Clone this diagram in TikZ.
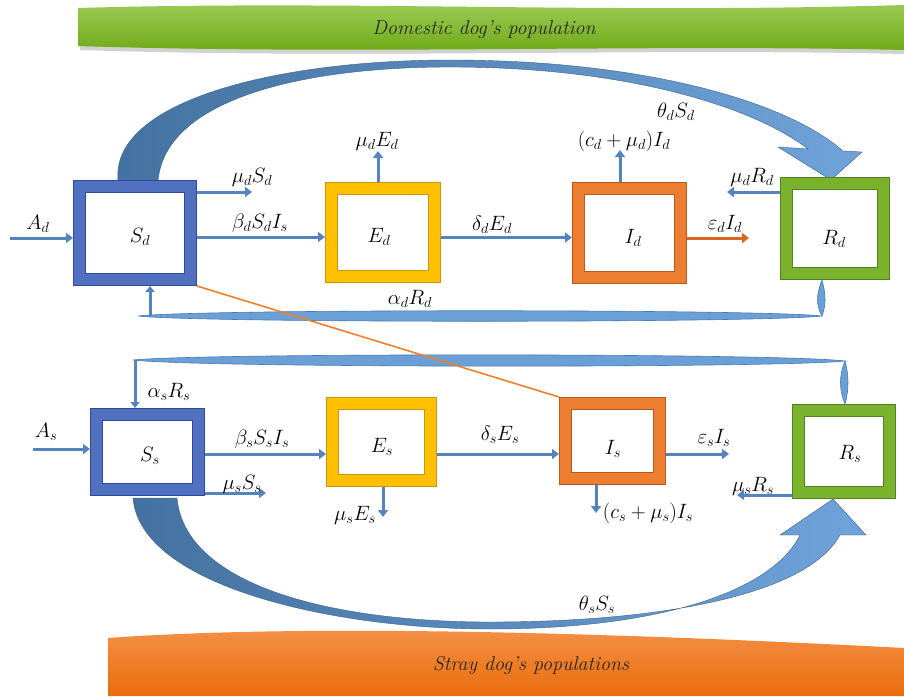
\documentclass[tikz,border=0pt]{standalone}
\usetikzlibrary{arrows.meta}
\definecolor{flowc}{RGB}{84,131,192}
\definecolor{Sband}{RGB}{82,112,192}
\definecolor{Sdark}{RGB}{47,75,150}
\definecolor{Eband}{RGB}{255,192,0}
\definecolor{Edark}{RGB}{196,150,20}
\definecolor{Iband}{RGB}{237,125,49}
\definecolor{Idark}{RGB}{180,90,30}
\definecolor{Rband}{RGB}{122,178,46}
\definecolor{Rdark}{RGB}{84,128,36}
\definecolor{bigL}{RGB}{68,114,160}
\definecolor{bigR}{RGB}{112,163,218}
\definecolor{lensc}{RGB}{106,160,214}
\definecolor{lensdk}{RGB}{70,120,180}
\definecolor{orl}{RGB}{240,127,42}
\definecolor{epsc}{RGB}{214,104,30}
\definecolor{gTop}{RGB}{158,204,90}
\definecolor{gBot}{RGB}{108,168,18}
\definecolor{oTop}{RGB}{244,146,74}
\definecolor{oBot}{RGB}{234,108,12}
\begin{document}
\begin{tikzpicture}[x=1pt,y=-1pt,
  lab/.style={inner sep=0pt, font=\fontsize{20.74}{25}\selectfont},
  bantext/.style={inner sep=0pt, font=\fontsize{20}{24}\selectfont\itshape, text=black!85},
  flow/.style={draw=flowc, line width=3pt, -{Triangle[length=7pt,width=10pt]}},
  box/.style={draw=#1dark, double=#1band, line width=1pt, double distance=11pt,
    fill=white, outer sep=6.5pt, inner sep=0pt},
  bigarrow/.style={left color=bigL, right color=bigR, draw=bigL!85!black, line width=0.4pt},
  lens/.style={fill=lensc, draw=lensdk, line width=0.6pt}]
\useasboundingbox (0,0) rectangle (904,696);

% banners
\path[fill=black!40, opacity=0.45] (80,12) .. controls (350,4) and (600,18) .. (904,9) -- (904,54) .. controls (650,48) and (350,59) .. (80,50) -- cycle;
\path[top color=gTop, bottom color=gBot] (78,8) .. controls (350,0) and (600,14) .. (904,5) -- (904,50) .. controls (650,44) and (350,55) .. (78,46) -- cycle;
\node[bantext] (gtitle) at (484,30) {Domestic dog’s population};

\path[top color=oTop, bottom color=oBot] (108,638) .. controls (300,624) and (600,632) .. (904,648) -- (904,696) -- (108,696) -- cycle;
\node[bantext] (otitle) at (531,665) {Stray dog’s populations};

% big curved arrows
\path[bigarrow] (118,181) .. controls (110,100) and (280,60) .. (450,60) .. controls (640,60) and (785,100) .. (843,151) -- (862,152) -- (831,180) -- (778,147) -- (808,149) .. controls (755,108) and (630,67) .. (450,67) .. controls (300,67) and (165,100) .. (158,181) -- cycle;
\path[bigarrow] (133,498) .. controls (140,585) and (330,629) .. (490,629) .. controls (650,629) and (770,595) .. (800,535) -- (780,535) -- (833,499) -- (866,535) -- (840,535) .. controls (805,598) and (650,622) .. (490,622) .. controls (330,622) and (185,585) .. (177,498) -- cycle;

% boxes
\node[box=S, minimum width=111, minimum height=93] (Sd) at (135,233) {};
\node[box=E, minimum width=103, minimum height=88] (Ed) at (383,232.5) {};
\node[box=I, minimum width=102, minimum height=89] (Id) at (629.5,233) {};
\node[box=R, minimum width=97, minimum height=90] (Rd) at (835,228.5) {};
\node[box=S, minimum width=102, minimum height=75] (Ss) at (147.5,452) {};
\node[box=E, minimum width=98, minimum height=77] (Es) at (381.5,442) {};
\node[box=I, minimum width=94, minimum height=75] (Is) at (612.5,441) {};
\node[box=R, minimum width=91, minimum height=82] (Rs) at (844,451.5) {};

\node[lab] (tSd) at (140,237) {$S_d$};
\node[lab] (tEd) at (379,237) {$E_d$};
\node[lab] (tId) at (633,238) {$I_d$};
\node[lab] (tRd) at (834,239) {$R_d$};
\node[lab] (tSs) at (150,456) {$S_s$};
\node[lab] (tEs) at (382,447) {$E_s$};
\node[lab] (tIs) at (613,449) {$I_s$};
\node[lab] (tRs) at (850,454) {$R_s$};

% recovery return connectors (alpha)
\coordinate (aLd) at (138,316);
\coordinate (aRd) at (822,316);
\coordinate (aUp) at (150,316);
\path[lens] (aLd) .. controls (200,309) and (760,309) .. (aRd) .. controls (760,323) and (200,323) .. (aLd) -- cycle;
\path[lens] (Rd.south -| aRd) .. controls (816,295) and (816,305) .. (aRd) .. controls (826,305) and (826,295) .. (Rd.south -| aRd) -- cycle;
\draw[flow, -{Triangle[length=6pt,width=9pt]}] (aUp) -- (aUp |- Sd.south);

\coordinate (aLs) at (133,360);
\coordinate (aRs) at (845,361);
\coordinate (aDown) at (135,360);
\path[lens] (aLs) .. controls (200,353) and (780,353) .. (aRs) .. controls (780,368) and (200,368) .. (aLs) -- cycle;
\path[lens] (aRs) .. controls (839,375) and (839,390) .. (Rs.north -| aRs) .. controls (849,390) and (849,375) .. (aRs) -- cycle;
\draw[flow, -{Triangle[length=6pt,width=9pt]}] (aDown) -- (aDown |- Ss.north);

% cross infection line
\draw[orl, line width=1.6pt] (Sd.south east) -- (Is.north west);

% top row flows
\coordinate (inAd) at (10,238);
\coordinate (muSd) at (252,192);
\coordinate (muEd) at (378,151);
\coordinate (cId) at (620,150);
\coordinate (epId) at (749,238);
\coordinate (muRd) at (727,192);
\draw[flow] (inAd) -- (inAd -| Sd.west);
\draw[flow] (muSd -| Sd.east) -- (muSd);
\draw[flow] ([yshift=-4pt]Sd.east) -- ([yshift=-4pt]Sd.east -| Ed.west);
\draw[flow] (Ed.north -| muEd) -- (muEd);
\draw[flow] ([yshift=-5pt]Ed.east) -- ([yshift=-5pt]Ed.east -| Id.west);
\draw[flow] (Id.north -| cId) -- (cId);
\draw[flow, draw=epsc] (epId -| Id.east) -- (epId);
\draw[flow] (muRd -| Rd.west) -- (muRd);

% bottom row flows
\coordinate (inAs) at (33,449);
\coordinate (muSs) at (266,493);
\coordinate (muEs) at (383,517);
\coordinate (cIs) at (596,513);
\coordinate (epIs) at (729,454);
\coordinate (muRs) at (737,495);
\draw[flow] (inAs) -- (inAs -| Ss.west);
\draw[flow] ([yshift=-2pt]Ss.east) -- ([yshift=-2pt]Ss.east -| Es.west);
\draw[flow] (muSs -| Ss.east) -- (muSs);
\draw[flow] (Es.south -| muEs) -- (muEs);
\draw[flow] ([yshift=-12pt]Es.east) -- ([yshift=-12pt]Es.east -| Is.west);
\draw[flow] (epIs -| Is.east) -- (epIs);
\draw[flow] (Is.south -| cIs) -- (cIs);
\draw[flow] (muRs -| Rs.west) -- (muRs);

% labels
\node[lab] (lAd) at (38,224) {$A_d$};
\node[lab] (lmuSd) at (252,177) {$\mu_d S_d$};
\node[lab] (lbeta) at (260,223) {$\beta_d S_d I_s$};
\node[lab] (lmuEd) at (377,141) {$\mu_d E_d$};
\node[lab] (ldelta) at (492,225) {$\delta_d E_d$};
\node[lab] (lcId) at (624,141) {$(c_d + \mu_d) I_d$};
\node[lab] (lepId) at (725,224) {$\varepsilon_d I_d$};
\node[lab] (lmuRd) at (752,177) {$\mu_d R_d$};
\node[lab] (lthd) at (676,112) {$\theta_d S_d$};
\node[lab] (lalpd) at (410,299) {$\alpha_d R_d$};

\node[lab] (lAs) at (46,432) {$A_s$};
\node[lab] (lalps) at (169,392) {$\alpha_s R_s$};
\node[lab] (lbetas) at (262,439) {$\beta_s S_s I_s$};
\node[lab] (lmuSs) at (242,484) {$\mu_s S_s$};
\node[lab] (lmuEs) at (355,515) {$\mu_s E_s$};
\node[lab] (ldels) at (500,435) {$\delta_s E_s$};
\node[lab] (leps) at (714,438) {$\varepsilon_s I_s$};
\node[lab] (lcIs) at (648,513) {$(c_s + \mu_s) I_s$};
\node[lab] (lmuRs) at (753,486) {$\mu_s R_s$};
\node[lab] (lths) at (597,605) {$\theta_s S_s$};
\end{tikzpicture}
\end{document}
